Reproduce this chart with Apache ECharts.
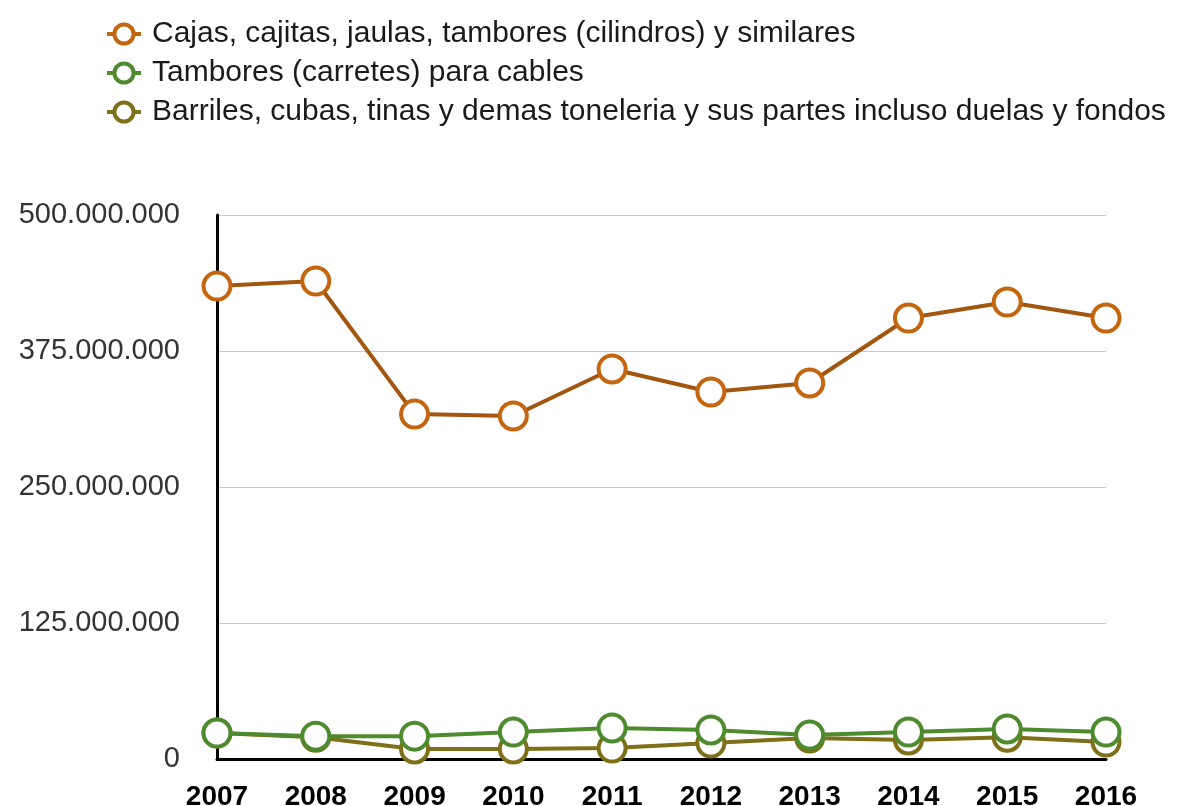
<!DOCTYPE html>
<html>
<head>
<meta charset="utf-8">
<title>ECharts</title>
<style>
html,body { height:100%; width:100%; margin:0; padding:0; background:#fff; }
</style>
<script src="https://cdn.jsdelivr.net/npm/echarts@6/dist/echarts.min.js"></script>
</head>
<body>
<div id="main" style="width:1202px;height:806px;"></div>
<script type="text/javascript">
var years = ['2007','2008','2009','2010','2011','2012','2013','2014','2015','2016'];
var seriesNames = [
	'Cajas, cajitas, jaulas, tambores (cilindros) y similares',
	'Tambores (carretes) para cables',
	'Barriles, cubas, tinas y demas toneleria y sus partes incluso duelas y fondos'
];
var cajas = [434700000, 439300000, 317000000, 315300000, 358500000, 337300000, 345600000, 405300000, 420000000, 405300000];
var tambores = [23900000, 21000000, 21000000, 24800000, 28500000, 26700000, 22000000, 24800000, 27600000, 24800000];
var barriles = [23900000, 20000000, 9200000, 9200000, 10000000, 14700000, 19300000, 17500000, 20000000, 15600000];
var yTicks = [0, 125000000, 250000000, 375000000, 500000000];

var lineColors = ['#a3560f', '#4e8a2e', '#7d7019'];
var markColors = ['#c4650f', '#4e8a2e', '#7d7019'];

// 格式化数值 500.000.000
function fmt(v) {
	return String(v).replace(/\B(?=(\d{3})+(?!\d))/g, '.');
}

function mkSeries(idx, data, z) {
	return {
		name: seriesNames[idx],
		type: 'line',
		data: data,
		z: z,
		symbol: 'circle',
		symbolSize: 27,
		lineStyle: { color: lineColors[idx], width: 4 },
		itemStyle: { color: '#fff', borderColor: markColors[idx], borderWidth: 4 },
		emphasis: { disabled: true }
	};
}

var myChart = echarts.init(document.getElementById('main'));
var option = {
	animation: false,
	legend: {
		orient: 'vertical',
		left: 100,
		top: 14,
		itemWidth: 34,
		itemHeight: 24,
		itemGap: 9,
		textStyle: { fontFamily: 'Liberation Sans', fontSize: 30, color: '#1a1a1a', padding: [0, 0, 0, 6] },
		data: seriesNames.map(function (n, i) {
			return { name: n, itemStyle: { color: '#fff', borderColor: markColors[i], borderWidth: 4 }, lineStyle: { color: markColors[i], width: 4 } };
		})
	},
	grid: { left: 217, right: 96, top: 215, bottom: 47, containLabel: false, outerBoundsMode: 'none' },
	xAxis: {
		type: 'category',
		data: years,
		boundaryGap: false,
		axisLine: { lineStyle: { color: '#000', width: 3 } },
		axisTick: { show: false },
		axisLabel: { fontFamily: 'Liberation Sans Narrow, Liberation Sans', fontWeight: 'bold', fontSize: 28, color: '#000', margin: 24 }
	},
	yAxis: {
		type: 'value',
		min: 0,
		max: 500000000,
		interval: 125000000,
		axisLine: { show: true, lineStyle: { color: '#000', width: 3 } },
		axisTick: { show: false },
		splitLine: { lineStyle: { color: '#c8c8c8', width: 1 } },
		axisLabel: {
			fontFamily: 'Liberation Sans', fontSize: 29, color: '#333', margin: 37,
			padding: [8, 0, 0, 0],
			formatter: function (v) { return yTicks.indexOf(v) >= 0 ? fmt(v) : ''; }
		}
	},
	series: [
		mkSeries(0, cajas, 4),
		mkSeries(1, tambores, 3),
		mkSeries(2, barriles, 2)
	]
};
myChart.setOption(option);
</script>
</body>
</html>
